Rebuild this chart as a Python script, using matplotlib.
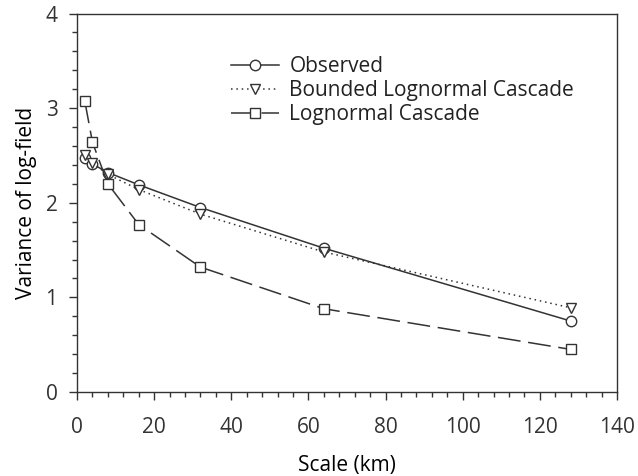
import matplotlib
matplotlib.use("Agg")
import matplotlib.pyplot as plt
from matplotlib.ticker import MultipleLocator

# scale in km and variance of the log-field
scale = [2, 4, 8, 16, 32, 64, 128]
observed = [2.47, 2.41, 2.32, 2.19, 1.95, 1.52, 0.75]
bounded = [2.50, 2.42, 2.30, 2.14, 1.88, 1.48, 0.89]
lognormal = [3.08, 2.64, 2.20, 1.77, 1.32, 0.88, 0.45]

INK = "#333333"
plt.rcParams.update({
    "font.family": ["Open Sans", "DejaVu Sans"],
    "font.size": 15,
    "axes.edgecolor": INK,
    "axes.linewidth": 1.0,
    "xtick.color": INK,
    "ytick.color": INK,
    "text.color": "#222222",
})

fig = plt.figure(figsize=(6.38, 4.76), dpi=100)
ax = fig.add_axes([0.1207, 0.1765, 0.8464, 0.795])

mk = dict(markersize=7.5, markerfacecolor="white", markeredgecolor=INK,
          markeredgewidth=1.0, color=INK, linewidth=1.1)
ax.plot(scale, observed, "-", marker="o", label="Observed", **mk)
ax.plot(scale, bounded, linestyle=(0, (1, 2.5)), marker="v", label="Bounded Lognormal Cascade", **mk)
ax.plot(scale, lognormal, linestyle=(0, (15, 5)), marker="s", label="Lognormal Cascade", **mk)

ax.set_xlim(0, 140)
ax.set_ylim(0, 4)
ax.xaxis.set_major_locator(MultipleLocator(20))
ax.xaxis.set_minor_locator(MultipleLocator(4))
ax.yaxis.set_major_locator(MultipleLocator(1))
ax.yaxis.set_minor_locator(MultipleLocator(0.2))
ax.tick_params(which="both", direction="out", top=False, right=False)
ax.tick_params(which="major", length=6, width=1.0, pad=12)
ax.tick_params(which="minor", length=3.5, width=1.0)
ax.tick_params(axis="y", which="major", pad=8)

ax.set_xlabel("Scale (km)", labelpad=12)
ax.set_ylabel("Variance of log-field", labelpad=6)

ax.legend(loc="upper left", bbox_to_anchor=(0.27, 0.91), frameon=False,
          handlelength=2.3, handletextpad=0.5, labelspacing=0.15, borderaxespad=0)

fig.savefig("out.png", dpi=100)
